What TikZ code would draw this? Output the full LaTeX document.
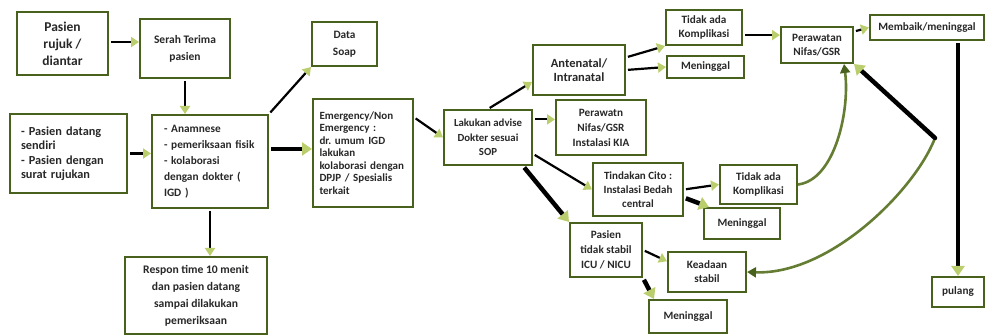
\documentclass[tikz,border=0pt]{standalone}
\usepackage{fontspec}
\setmainfont{Carlito}
\usetikzlibrary{arrows.meta, calc}
\definecolor{kotakhijau}{RGB}{72,98,30}
\definecolor{ujunghijau}{RGB}{186,206,110}
\definecolor{teks}{RGB}{40,40,40}
\frenchspacing

\begin{document}
\begin{tikzpicture}[x=1pt, y=-1pt, % 1 unit = 1 px of the scan
  kotak/.style={draw=kotakhijau, line width=2pt, fill=white, text=teks, align=center, inner sep=2pt,
    font=\bfseries\fontsize{11.2}{13.5}\selectfont},
  panah/.style={line width=2.2pt, black, shorten <=2pt,
    -{Triangle[color=ujunghijau, length=8pt, width=10pt]}},
  panahtebal/.style={line width=4.5pt, black, shorten <=2pt,
    -{Triangle[color=ujunghijau, length=10pt, width=13pt]}},
  lengkung/.style={line width=2.6pt, kotakhijau!75!ujunghijau}]

\useasboundingbox (0,0) rectangle (987,336);

% kolom kiri
\node[kotak, minimum width=91pt, minimum height=63pt, font=\bfseries\fontsize{13.5}{17}\selectfont] (rujuk) at (62.5,43.5) {Pasien\\rujuk /\\diantar};
\node[kotak, minimum width=90pt, minimum height=59pt, font=\bfseries\fontsize{11.5}{17}\selectfont] (serah) at (185,48.5) {Serah Terima\\pasien};
\node[kotak, minimum width=117pt, minimum height=79pt, text width=95pt, align=left, font=\bfseries\fontsize{12.3}{14.5}\selectfont] (datang) at (68.5,153.5) {- Pasien datang\\sendiri\\- Pasien dengan\\surat rujukan};
\node[kotak, minimum width=116pt, minimum height=93pt, text width=92pt, align=left, font=\bfseries\fontsize{11.3}{16}\selectfont] (anam) at (210,161.5) {- Anamnese\\- pemeriksaan fisik\\- kolaborasi\\dengan dokter (\\IGD )};
\node[kotak, minimum width=142pt, minimum height=77pt, font=\bfseries\fontsize{11.6}{17}\selectfont] (respon) at (196,295.5) {Respon time 10 menit\\dan pasien datang\\sampai dilakukan\\pemeriksaan};

% kolom tengah
\node[kotak, minimum width=65pt, minimum height=44pt, font=\bfseries\fontsize{11.3}{16.5}\selectfont] (soap) at (344.5,44) {Data\\Soap};
\node[kotak, minimum width=100pt, minimum height=108pt, text width=87pt, align=left, font=\bfseries\fontsize{11}{12.5}\selectfont] (emerg) at (363,153) {Emergency/Non\\Emergency :\\dr. umum IGD\\lakukan\\kolaborasi dengan\\DPJP / Spesialis\\terkait};
\node[kotak, minimum width=88pt, minimum height=55pt, font=\bfseries\fontsize{10.8}{14.3}\selectfont] (advise) at (488,137.5) {Lakukan advise\\Dokter sesuai\\SOP};

% cabang kanan
\node[kotak, minimum width=92pt, minimum height=50pt, font=\bfseries\fontsize{12.5}{13.5}\selectfont] (ante) at (579,70) {Antenatal/\\Intranatal};
\node[kotak, minimum width=76pt, minimum height=35pt] (tidak1) at (704,27.5) {Tidak ada\\Komplikasi};
\node[kotak, minimum width=77pt, minimum height=22pt] (mati1) at (705.5,67) {Meninggal};
\node[kotak, minimum width=90pt, minimum height=55pt, font=\bfseries\fontsize{11.2}{15}\selectfont] (kia) at (601,127.5) {Perawatn\\Nifas/GSR\\Instalasi KIA};
\node[kotak, minimum width=90pt, minimum height=53pt, font=\bfseries\fontsize{11}{14.3}\selectfont] (cito) at (638,189.5) {Tindakan Cito :\\Instalasi Bedah\\central};
\node[kotak, minimum width=77pt, minimum height=39pt] (tidak2) at (758.5,184.5) {Tidak ada\\Komplikasi};
\node[kotak, minimum width=76pt, minimum height=31pt] (mati2) at (742,223.5) {Meninggal};
\node[kotak, minimum width=72pt, minimum height=54pt, font=\bfseries\fontsize{11.2}{15}\selectfont] (icu) at (606,250) {Pasien\\tidak stabil\\ICU / NICU};
\node[kotak, minimum width=78pt, minimum height=40pt, font=\bfseries\fontsize{11.2}{14}\selectfont] (stabil) at (707,272) {Keadaan\\stabil};
\node[kotak, minimum width=78pt, minimum height=33pt] (mati3) at (688,316.5) {Meninggal};
\node[kotak, minimum width=72pt, minimum height=36pt] (nifas) at (817,45) {Perawatan\\Nifas/GSR};
\node[kotak, minimum width=114pt, minimum height=25pt] (membaik) at (927,27.5) {Membaik/meninggal};
\node[kotak, minimum width=52pt, minimum height=30pt] (pulang) at (958,292) {pulang};
\coordinate (sudut) at (935,138);

% panah
\draw[panah] (rujuk.east |- 0,42) -- (serah.west |- 0,42);
\draw[panah] (serah.south) -- (serah.south |- anam.north);
\draw[panah] (datang.east) -- (datang.east -| anam.west);
\draw[panah] (anam.north east) -- (soap.south west);
\draw[panahtebal] (anam.12) -- (anam.12 -| emerg.west);
\draw[panah] (anam.south) -- (anam.south |- respon.north);
\draw[panah] (emerg.35) -- (advise.west);
\draw[panah] (advise.north) -- ([yshift=-12pt]ante.west);
\draw[panah] (advise.east |- kia.170) -- (kia.170);
\draw[panah] (advise.-20) -- (cito.west);
\draw[panahtebal] ([xshift=-10pt]advise.south east) -- (icu.north west);
\draw[panah] (ante.15) -- (tidak1.south west);
\draw[panah] (ante.east) -- (mati1.west);
\draw[panah] (tidak1.east |- nifas.165) -- (nifas.165);
\draw[panah] (nifas.20) -- (membaik.west);
\draw[panahtebal] (pulang.north |- membaik.south) -- (pulang.north);
\draw[panah] (cito.east) -- (tidak2.west);
\draw[panahtebal] (cito.-10) -- ([xshift=6pt]mati2.north west);
\draw[panah] (icu.east) -- (stabil.165);
\draw[panahtebal] (icu.south east) -- ([xshift=6pt]mati3.north west);

% lengkung balik ke Perawatan Nifas/GSR
\draw[lengkung, -{Triangle[color=kotakhijau, length=9pt, width=10pt]}] (tidak2.east) .. controls (835,180) and (850,110) .. ([xshift=-10pt]nifas.south east);
\draw[lengkung, {Triangle[color=kotakhijau, length=9pt, width=10pt]}-] (stabil.east) .. controls (830,275) and (915,190) .. (sudut);
\draw[panahtebal, shorten <=0pt, line cap=round] (sudut) -- (nifas.south east);

\end{tikzpicture}
\end{document}
